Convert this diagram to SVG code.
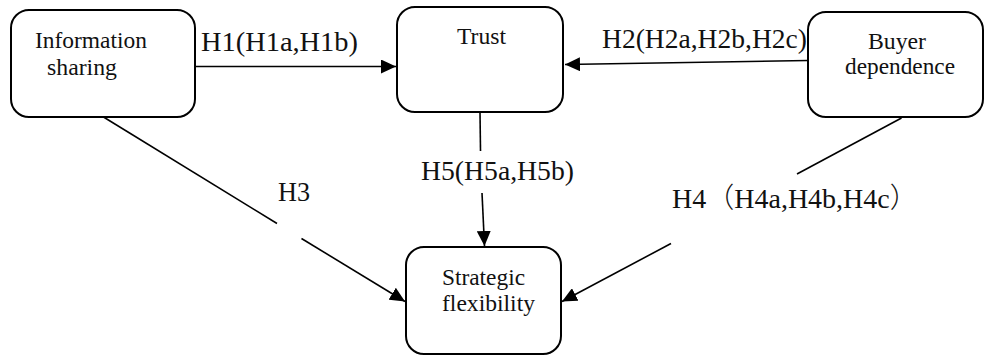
<svg xmlns="http://www.w3.org/2000/svg" width="984" height="356" viewBox="0 0 984 356">
<style>
.box{fill:#fff;stroke:#000;stroke-width:2}
.nt{font-family:"Liberation Serif","Times New Roman",serif;font-size:24px;fill:#111}
.lb{font-family:"Liberation Serif","Noto Sans CJK SC",serif;font-size:28px;fill:#111}
.cn{stroke:#000;stroke-width:1.6;fill:none}
</style>
<defs>
<marker id="ah" markerUnits="userSpaceOnUse" markerWidth="16" markerHeight="14" refX="15" refY="7" orient="auto">
<path d="M0,0 L15,7 L0,14 Z" fill="#000"/>
</marker>
</defs>
<rect width="984" height="356" fill="#fff"/>
<g id="connectors">
<line class="cn" x1="195" y1="66.5" x2="396" y2="66.5" marker-end="url(#ah)"/>
<line class="cn" x1="808" y1="60.5" x2="565" y2="64.5" marker-end="url(#ah)"/>
<line class="cn" x1="480" y1="112" x2="480.5" y2="151"/>
<line class="cn" x1="482" y1="193" x2="484.5" y2="246" marker-end="url(#ah)"/>
<line class="cn" x1="103.5" y1="117" x2="277" y2="223.5"/>
<line class="cn" x1="301.5" y1="238.5" x2="405" y2="301.5" marker-end="url(#ah)"/>
<line class="cn" x1="901.5" y1="118" x2="797" y2="174"/>
<line class="cn" x1="671" y1="243.5" x2="562" y2="301.5" marker-end="url(#ah)"/>
<text class="lb" x="201" y="51" textLength="157" lengthAdjust="spacingAndGlyphs">H1(H1a,H1b)</text>
<text class="lb" x="602" y="47.5" textLength="205" lengthAdjust="spacingAndGlyphs">H2(H2a,H2b,H2c)</text>
<text class="lb" x="421" y="180" textLength="153" lengthAdjust="spacingAndGlyphs">H5(H5a,H5b)</text>
<text class="lb" x="278" y="201" textLength="32" lengthAdjust="spacingAndGlyphs">H3</text>
<text class="lb" x="672" y="208">H4<tspan font-family="Noto Sans CJK SC, sans-serif" font-weight="300">（</tspan>H4a,H4b,H4c<tspan font-family="Noto Sans CJK SC, sans-serif" font-weight="300">）</tspan></text>
</g>
<g id="node-information-sharing">
<rect class="box" x="11" y="10" width="184" height="107" rx="18" ry="18"/>
<text class="nt" x="35" y="48" textLength="112" lengthAdjust="spacingAndGlyphs">Information</text>
<text class="nt" x="47" y="75" textLength="70" lengthAdjust="spacingAndGlyphs">sharing</text>
</g>
<g id="node-trust">
<rect class="box" x="397" y="7" width="166" height="105" rx="18" ry="18"/>
<text class="nt" x="457" y="44" textLength="49" lengthAdjust="spacingAndGlyphs">Trust</text>
</g>
<g id="node-buyer-dependence">
<rect class="box" x="808" y="12" width="175" height="105" rx="18" ry="18"/>
<text class="nt" x="868" y="48.5" textLength="58" lengthAdjust="spacingAndGlyphs">Buyer</text>
<text class="nt" x="845" y="74" textLength="110" lengthAdjust="spacingAndGlyphs">dependence</text>
</g>
<g id="node-strategic-flexibility">
<rect class="box" x="406" y="247" width="155" height="107" rx="18" ry="18"/>
<text class="nt" x="442" y="285" textLength="83" lengthAdjust="spacingAndGlyphs">Strategic</text>
<text class="nt" x="442" y="311" textLength="93" lengthAdjust="spacingAndGlyphs">flexibility</text>
</g>
</svg>
